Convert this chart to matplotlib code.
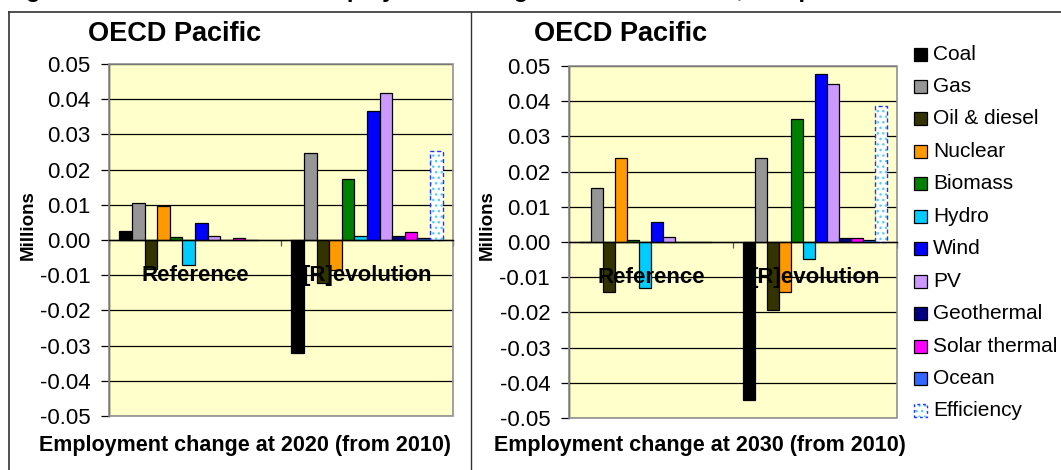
import matplotlib
matplotlib.use('Agg')
import matplotlib.pyplot as plt
from matplotlib.patches import Rectangle
import numpy as np

plt.rcParams['font.family'] = ['Liberation Sans', 'DejaVu Sans']

# ---------------- data ----------------
technologies = ['Coal', 'Gas', 'Oil & diesel', 'Nuclear', 'Biomass', 'Hydro',
                'Wind', 'PV', 'Geothermal', 'Solar thermal', 'Ocean', 'Efficiency']
scenarios = ['Reference', '[R]evolution']

chg_2020_ref = [0.0026, 0.0106, -0.0083, 0.0098, 0.0008, -0.0071,
                0.0047, 0.0012, 0.0000, 0.0005, 0.0000, 0.0000]
chg_2020_rev = [-0.0322, 0.0248, -0.0122, -0.0085, 0.0173, 0.0011,
                0.0366, 0.0418, 0.0011, 0.0024, 0.0005, 0.0253]
chg_2030_ref = [0.0000, 0.0153, -0.0143, 0.0238, 0.0007, -0.0130,
                0.0058, 0.0014, 0.0000, 0.0000, 0.0000, 0.0000]
chg_2030_rev = [-0.0449, 0.0238, -0.0194, -0.0143, 0.0349, -0.0048,
                0.0476, 0.0448, 0.0010, 0.0010, 0.0007, 0.0385]

y_ticks = [-0.05, -0.04, -0.03, -0.02, -0.01, 0.0, 0.01, 0.02, 0.03, 0.04, 0.05]
y_tick_labels = ['-0.05', '-0.04', '-0.03', '-0.02', '-0.01', '0.00',
                 '0.01', '0.02', '0.03', '0.04', '0.05']

panel_title = 'OECD Pacific'
x_titles = ['Employment change at 2020 (from 2010)',
            'Employment change at 2030 (from 2010)']
y_title = 'Millions'
fig_title = 'Figure 7.12: OECD Pacific: Employment change at 2020 and 2030, compared to 2010'

colors = ['#000000', '#969696', '#333300', '#FF9900', '#008000', '#00CCFF',
          '#0000FF', '#CC99FF', '#000080', '#FF00FF', '#3366FF', '#FFFFFF']

# ---------------- layout ----------------
W, H = 1061, 470
fig = plt.figure(figsize=(W / 100, H / 100), dpi=100)


def fx(px):
    return px / W


def fy(py):
    return 1 - py / H


axes_px = [(109, 64, 453, 416), (569, 66, 897, 418)]
panel_data = [(chg_2020_ref, chg_2020_rev), (chg_2030_ref, chg_2030_rev)]

n = len(technologies)
gap = 0.12
w = (1 - gap) / n
cats = np.arange(len(scenarios))

for k, (x0, y0, x1, y1) in enumerate(axes_px):
    ax = fig.add_axes([fx(x0), fy(y1), (x1 - x0) / W, (y1 - y0) / H])
    ax.set_facecolor('#FFFFCC')
    ax.set_xlim(-0.5, len(scenarios) - 0.5)
    ax.set_ylim(y_ticks[0], y_ticks[-1])
    ax.set_yticks(y_ticks)
    ax.set_yticklabels(y_tick_labels, fontsize=16)
    ax.yaxis.grid(True, color='black', lw=0.9)
    ax.set_axisbelow(True)
    ax.tick_params(axis='y', direction='out', length=6, width=0.9, pad=7.5,
                   colors='black')
    # category axis at zero
    ax.spines['bottom'].set_position(('data', 0))
    ax.spines['bottom'].set_color('black')
    ax.spines['bottom'].set_linewidth(1.0)
    ax.spines['bottom'].set_zorder(4)
    ax.set_xticks(np.arange(-0.5, len(scenarios), 1.0))
    ax.set_xticklabels([])
    ax.tick_params(axis='x', direction='out', length=4, width=0.9, colors='#555555')
    ax.spines['top'].set_visible(False)
    ax.spines['right'].set_visible(False)
    ax.spines['left'].set_color('black')
    ax.spines['left'].set_linewidth(1.0)
    ax.add_patch(Rectangle((0, 0), 1, 1, transform=ax.transAxes, fill=False,
                           edgecolor='#909090', lw=1.2, zorder=3, clip_on=False))

    ref, rev = panel_data[k]
    for j, tech in enumerate(technologies):
        vals = np.array([ref[j], rev[j]])
        xs = cats + (j - (n - 1) / 2) * w
        if tech == 'Efficiency':
            ax.bar(xs, vals, width=w, color='white', edgecolor='#55CCFF',
                   hatch='...', lw=0, zorder=2)
            bars = ax.bar(xs, vals, width=w, facecolor='none', edgecolor='#2233FF',
                          lw=1.0, linestyle=(0, (3, 2)), zorder=2.1)
            for b, v in zip(bars, vals):
                if v == 0:
                    b.set_visible(False)
        else:
            ax.bar(xs, vals, width=w, color=colors[j], edgecolor='black',
                   lw=0.9, zorder=2)

    for i, s in enumerate(scenarios):
        ax.annotate(s, xy=(cats[i], 0), xytext=(0, -25.5),
                    textcoords='offset points', ha='center', va='center',
                    fontsize=16, fontweight='bold', zorder=6)

# titles
fig.text(fx(175), fy(34), panel_title, ha='center', va='center',
         fontsize=19.5, fontweight='bold')
fig.text(fx(621), fy(34), panel_title, ha='center', va='center',
         fontsize=19.5, fontweight='bold')
fig.text(fx(245), fy(446), x_titles[0], ha='center', va='center',
         fontsize=15.5, fontweight='bold')
fig.text(fx(700), fy(446), x_titles[1], ha='center', va='center',
         fontsize=15.5, fontweight='bold')
fig.text(fx(28), fy(225), y_title, ha='center', va='center', rotation=90,
         fontsize=13.5, fontweight='bold')
fig.text(fx(487), fy(225), y_title, ha='center', va='center', rotation=90,
         fontsize=13.5, fontweight='bold')
fig.text(fx(5), 1.006, fig_title, ha='left', va='baseline',
         fontsize=17, fontweight='bold')

# panel borders
fig.add_artist(plt.Line2D([fx(9), 1.0], [fy(12), fy(12)], color='#333333', lw=1.2))
fig.add_artist(plt.Line2D([fx(9), fx(9)], [fy(12), 0], color='#333333', lw=1.2))
fig.add_artist(plt.Line2D([fx(471), fx(471)], [fy(12), 0], color='#333333', lw=1.0))

# legend
sq = 13
for j, tech in enumerate(technologies):
    yc = 54 + j * 32.45
    if tech == 'Efficiency':
        fig.add_artist(Rectangle((fx(914), fy(yc + sq / 2)), sq / W, sq / H,
                                 transform=fig.transFigure, facecolor='white',
                                 edgecolor='#55CCFF', hatch='...', lw=0))
        fig.add_artist(Rectangle((fx(914), fy(yc + sq / 2)), sq / W, sq / H,
                                 transform=fig.transFigure, facecolor='none',
                                 edgecolor='#2233FF', lw=1.0, linestyle=(0, (2, 2))))
    else:
        fig.add_artist(Rectangle((fx(914), fy(yc + sq / 2)), sq / W, sq / H,
                                 transform=fig.transFigure, facecolor=colors[j],
                                 edgecolor='black', lw=0.9))
    fig.text(fx(933), fy(yc), tech, ha='left', va='center', fontsize=15)

fig.savefig('out.png', dpi=100)
